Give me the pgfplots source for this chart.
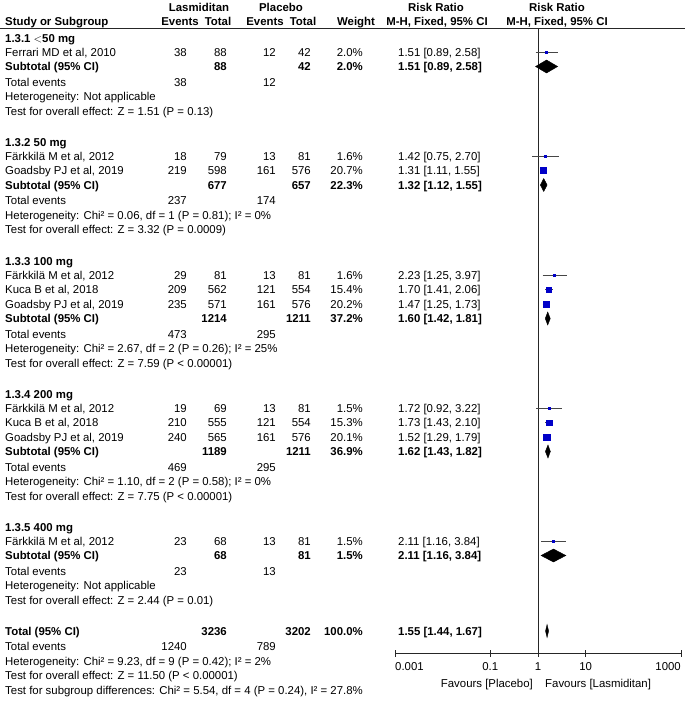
\documentclass[border=0pt]{standalone}
\usepackage{pgfplots}
\pgfplotsset{compat=1.18}
\usepackage{fontspec}
\setmainfont{Liberation Sans}
\definecolor{sqblue}{RGB}{0,0,200}
\definecolor{cigray}{RGB}{70,70,70}
\newcommand\fs{\fontsize{11.4}{13}\selectfont}
\newcommand\TL[3]{\node[anchor=base west, yshift=-4pt] at (#1pt,-#2pt) {#3};}
\newcommand\TR[3]{\node[anchor=base east, yshift=-4pt] at (#1pt,-#2pt) {#3};}
\newcommand\TC[3]{\node[anchor=base, yshift=-4pt] at (#1pt,-#2pt) {#3};}
% study rows: columns rr lo hi y w
\pgfplotstableread{
rr   lo   hi   y     w
1.51 0.89 2.58 -52   2.0
1.42 0.75 2.70 -156  1.6
1.31 1.11 1.55 -170.5 20.7
2.23 1.25 3.97 -275  1.6
1.70 1.41 2.06 -289.5 15.4
1.47 1.25 1.73 -304  20.2
1.72 0.92 3.22 -408  1.5
1.73 1.43 2.10 -422.5 15.3
1.52 1.29 1.79 -437  20.1
2.11 1.16 3.84 -541  1.5
}\studies
\begin{document}
\begin{tikzpicture}[every node/.style={font=\fs, inner sep=0pt}]
\useasboundingbox (0,0) rectangle (685pt,-702pt);
\begin{axis}[
  at={(395pt,-653pt)}, anchor=south west,
  scale only axis, width=286pt, height=625pt,
  xmode=log, log basis x=10, xmin=0.001, xmax=1000,
  ymin=-653, ymax=-28,
  axis x line=bottom, axis y line=none,
  axis line style={-, draw=black!85, line width=0.8pt},
  xtick={0.001,0.1,1,10,1000}, xticklabels={},
  minor xtick={},
  tick align=center, major tick length=7pt,
  tick style={draw=black!85, line width=0.8pt},
  clip=false,
]
% line of no effect
\addplot[draw=black!85, line width=0.8pt] coordinates {(1,-28) (1,-653)};
% confidence intervals of the studies
\addplot[draw=cigray, line width=0.8pt, unbounded coords=jump] coordinates {
 (0.89,-52) (2.58,-52) (nan,nan)
 (0.75,-156) (2.70,-156) (nan,nan)
 (1.11,-170.5) (1.55,-170.5) (nan,nan)
 (1.25,-275) (3.97,-275) (nan,nan)
 (1.41,-289.5) (2.06,-289.5) (nan,nan)
 (1.25,-304) (1.73,-304) (nan,nan)
 (0.92,-408) (3.22,-408) (nan,nan)
 (1.43,-422.5) (2.10,-422.5) (nan,nan)
 (1.29,-437) (1.79,-437) (nan,nan)
 (1.16,-541) (3.84,-541)
};
% weight squares
\addplot[only marks, mark=square*, scatter,
  visualization depends on={max(0.9,0.68*sqrt(\thisrow{w})) \as \msize},
  scatter/use mapped color={draw=sqblue, fill=sqblue},
  scatter/@pre marker code/.append style={/tikz/mark size=\msize pt}]
  table[x=rr, y=y] {\studies};
% subtotal and total diamonds
\addplot[fill=black, draw=black] coordinates {(0.89,-66.5) (1.51,-60) (2.58,-66.5) (1.51,-73)} -- cycle;
\addplot[fill=black, draw=black] coordinates {(1.12,-185) (1.32,-178.5) (1.55,-185) (1.32,-191.5)} -- cycle;
\addplot[fill=black, draw=black] coordinates {(1.42,-318.5) (1.60,-312) (1.81,-318.5) (1.60,-325)} -- cycle;
\addplot[fill=black, draw=black] coordinates {(1.43,-451.5) (1.62,-445) (1.82,-451.5) (1.62,-458)} -- cycle;
\addplot[fill=black, draw=black] coordinates {(1.16,-555.5) (2.11,-549) (3.84,-555.5) (2.11,-562)} -- cycle;
\addplot[fill=black, draw=black] coordinates {(1.44,-631) (1.55,-624.5) (1.67,-631) (1.55,-637.5)} -- cycle;
% tick labels
\node[anchor=base west] at (axis cs:0.001,-670) {0.001};
\node[anchor=base] at (axis cs:0.1,-670) {0.1};
\node[anchor=base] at (axis cs:1,-670) {1};
\node[anchor=base] at (axis cs:10,-670) {10};
\node[anchor=base east] at (axis cs:1000,-670) {1000};
\end{axis}
% header line
\draw[black!85, line width=0.8pt] (0pt,-28pt) -- (685pt,-28pt);
% headers
\TC{199}{7}{\bfseries Lasmiditan}
\TC{281}{7}{\bfseries Placebo}
\TC{436}{7}{\bfseries Risk Ratio}
\TC{557}{7}{\bfseries Risk Ratio}
\TL{5}{21}{\bfseries Study or Subgroup}
\TC{180}{21}{\bfseries Events}
\TC{218}{21}{\bfseries Total}
\TC{265}{21}{\bfseries Events}
\TC{303}{21}{\bfseries Total}
\TC{356}{21}{\bfseries Weight}
\TC{437}{21}{\bfseries M-H, Fixed, 95\% CI}
\TC{557}{21}{\bfseries M-H, Fixed, 95\% CI}
% ---- group 1
\TL{5}{38}{\bfseries 1.3.1 {\mdseries$<$}50 mg}
\TL{5}{52}{Ferrari MD et al, 2010}
\TR{187}{52}{38}\TR{227}{52}{88}\TR{276}{52}{12}\TR{311}{52}{42}\TR{363}{52}{2.0\%}
\TL{398}{52}{1.51 [0.89, 2.58]}
\TL{5}{66.5}{\bfseries Subtotal (95\% CI)}
\TR{227}{66.5}{\bfseries 88}\TR{311}{66.5}{\bfseries 42}\TR{363}{66.5}{\bfseries 2.0\%}
\TL{398}{66.5}{\bfseries 1.51 [0.89, 2.58]}
\TL{5}{82}{Total events}\TR{187}{82}{38}\TR{276}{82}{12}
\TL{5}{96.5}{Heterogeneity: Not applicable}
\TL{5}{111}{Test for overall effect: Z = 1.51 (P = 0.13)}
% ---- group 2
\TL{5}{142}{\bfseries 1.3.2 50 mg}
\TL{5}{156}{Färkkilä M et al, 2012}
\TR{187}{156}{18}\TR{227}{156}{79}\TR{276}{156}{13}\TR{311}{156}{81}\TR{363}{156}{1.6\%}
\TL{398}{156}{1.42 [0.75, 2.70]}
\TL{5}{170.5}{Goadsby PJ et al, 2019}
\TR{187}{170.5}{219}\TR{227}{170.5}{598}\TR{276}{170.5}{161}\TR{311}{170.5}{576}\TR{363}{170.5}{20.7\%}
\TL{398}{170.5}{1.31 [1.11, 1.55]}
\TL{5}{185}{\bfseries Subtotal (95\% CI)}
\TR{227}{185}{\bfseries 677}\TR{311}{185}{\bfseries 657}\TR{363}{185}{\bfseries 22.3\%}
\TL{398}{185}{\bfseries 1.32 [1.12, 1.55]}
\TL{5}{200.5}{Total events}\TR{187}{200.5}{237}\TR{276}{200.5}{174}
\TL{5}{215}{Heterogeneity: Chi² = 0.06, df = 1 (P = 0.81); I² = 0\%}
\TL{5}{229.5}{Test for overall effect: Z = 3.32 (P = 0.0009)}
% ---- group 3
\TL{5}{261}{\bfseries 1.3.3 100 mg}
\TL{5}{275}{Färkkilä M et al, 2012}
\TR{187}{275}{29}\TR{227}{275}{81}\TR{276}{275}{13}\TR{311}{275}{81}\TR{363}{275}{1.6\%}
\TL{398}{275}{2.23 [1.25, 3.97]}
\TL{5}{289.5}{Kuca B et al, 2018}
\TR{187}{289.5}{209}\TR{227}{289.5}{562}\TR{276}{289.5}{121}\TR{311}{289.5}{554}\TR{363}{289.5}{15.4\%}
\TL{398}{289.5}{1.70 [1.41, 2.06]}
\TL{5}{304}{Goadsby PJ et al, 2019}
\TR{187}{304}{235}\TR{227}{304}{571}\TR{276}{304}{161}\TR{311}{304}{576}\TR{363}{304}{20.2\%}
\TL{398}{304}{1.47 [1.25, 1.73]}
\TL{5}{318.5}{\bfseries Subtotal (95\% CI)}
\TR{227}{318.5}{\bfseries 1214}\TR{311}{318.5}{\bfseries 1211}\TR{363}{318.5}{\bfseries 37.2\%}
\TL{398}{318.5}{\bfseries 1.60 [1.42, 1.81]}
\TL{5}{334}{Total events}\TR{187}{334}{473}\TR{276}{334}{295}
\TL{5}{348.5}{Heterogeneity: Chi² = 2.67, df = 2 (P = 0.26); I² = 25\%}
\TL{5}{363}{Test for overall effect: Z = 7.59 (P < 0.00001)}
% ---- group 4
\TL{5}{394}{\bfseries 1.3.4 200 mg}
\TL{5}{408}{Färkkilä M et al, 2012}
\TR{187}{408}{19}\TR{227}{408}{69}\TR{276}{408}{13}\TR{311}{408}{81}\TR{363}{408}{1.5\%}
\TL{398}{408}{1.72 [0.92, 3.22]}
\TL{5}{422.5}{Kuca B et al, 2018}
\TR{187}{422.5}{210}\TR{227}{422.5}{555}\TR{276}{422.5}{121}\TR{311}{422.5}{554}\TR{363}{422.5}{15.3\%}
\TL{398}{422.5}{1.73 [1.43, 2.10]}
\TL{5}{437}{Goadsby PJ et al, 2019}
\TR{187}{437}{240}\TR{227}{437}{565}\TR{276}{437}{161}\TR{311}{437}{576}\TR{363}{437}{20.1\%}
\TL{398}{437}{1.52 [1.29, 1.79]}
\TL{5}{451.5}{\bfseries Subtotal (95\% CI)}
\TR{227}{451.5}{\bfseries 1189}\TR{311}{451.5}{\bfseries 1211}\TR{363}{451.5}{\bfseries 36.9\%}
\TL{398}{451.5}{\bfseries 1.62 [1.43, 1.82]}
\TL{5}{467}{Total events}\TR{187}{467}{469}\TR{276}{467}{295}
\TL{5}{481.5}{Heterogeneity: Chi² = 1.10, df = 2 (P = 0.58); I² = 0\%}
\TL{5}{496}{Test for overall effect: Z = 7.75 (P < 0.00001)}
% ---- group 5
\TL{5}{527}{\bfseries 1.3.5 400 mg}
\TL{5}{541}{Färkkilä M et al, 2012}
\TR{187}{541}{23}\TR{227}{541}{68}\TR{276}{541}{13}\TR{311}{541}{81}\TR{363}{541}{1.5\%}
\TL{398}{541}{2.11 [1.16, 3.84]}
\TL{5}{555.5}{\bfseries Subtotal (95\% CI)}
\TR{227}{555.5}{\bfseries 68}\TR{311}{555.5}{\bfseries 81}\TR{363}{555.5}{\bfseries 1.5\%}
\TL{398}{555.5}{\bfseries 2.11 [1.16, 3.84]}
\TL{5}{571}{Total events}\TR{187}{571}{23}\TR{276}{571}{13}
\TL{5}{585.5}{Heterogeneity: Not applicable}
\TL{5}{600}{Test for overall effect: Z = 2.44 (P = 0.01)}
% ---- total
\TL{5}{631}{\bfseries Total (95\% CI)}
\TR{227}{631}{\bfseries 3236}\TR{311}{631}{\bfseries 3202}\TR{363}{631}{\bfseries 100.0\%}
\TL{398}{631}{\bfseries 1.55 [1.44, 1.67]}
\TL{5}{646.5}{Total events}\TR{187}{646.5}{1240}\TR{276}{646.5}{789}
\TL{5}{661}{Heterogeneity: Chi² = 9.23, df = 9 (P = 0.42); I² = 2\%}
\TL{5}{675.5}{Test for overall effect: Z = 11.50 (P < 0.00001)}
\TL{5}{690}{Test for subgroup differences: Chi² = 5.54, df = 4 (P = 0.24), I² = 27.8\%}
% favours
\TR{533}{683}{Favours [Placebo]}
\TL{545}{683}{Favours [Lasmiditan]}
\end{tikzpicture}
\end{document}
